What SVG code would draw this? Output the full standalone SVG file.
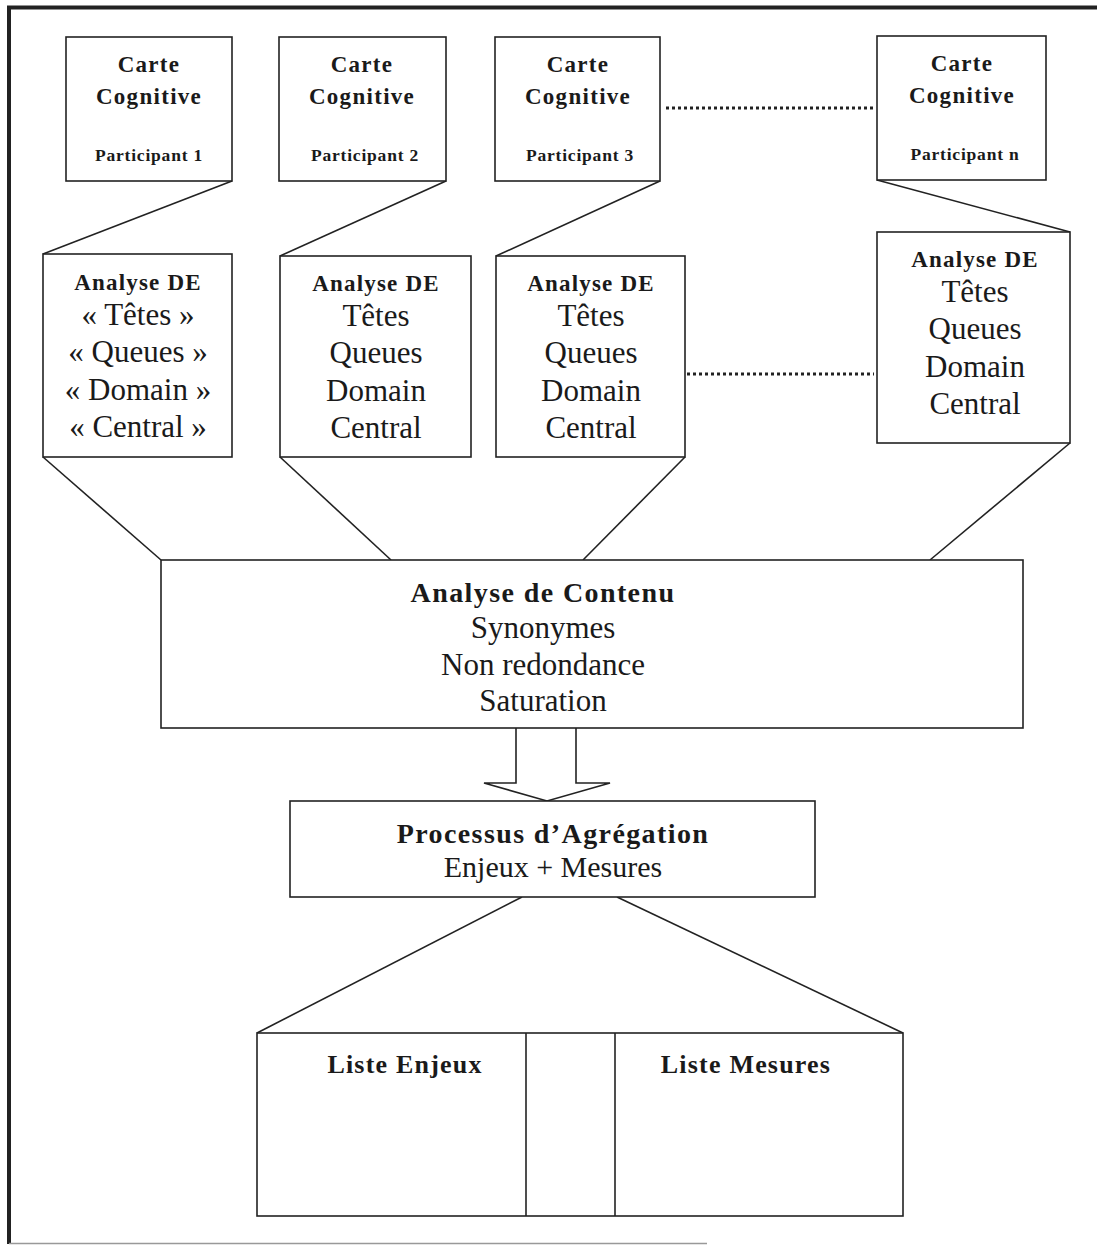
<svg xmlns="http://www.w3.org/2000/svg" width="1097" height="1245" viewBox="0 0 1097 1245">
  <style>
    .box { fill: #ffffff; stroke: #222; stroke-width: 1.6; }
    .line { fill: none; stroke: #222; stroke-width: 1.6; }
    .dots { fill: none; stroke: #222; stroke-width: 3; stroke-dasharray: 3 3; }
    text { font-family: "Liberation Serif", "Times New Roman", serif; fill: #1a1a1a; text-anchor: middle; }
    .h1 { font-size: 23px; font-weight: bold; letter-spacing: 1.3px; }
    .p { font-size: 17.5px; font-weight: bold; letter-spacing: 0.8px; }
    .h2 { font-size: 23px; font-weight: bold; letter-spacing: 1.2px; }
    .r { font-size: 31px; }
    .h3 { font-size: 28px; font-weight: bold; letter-spacing: 1.4px; }
    .h4 { font-size: 26px; font-weight: bold; letter-spacing: 1.2px; }
  </style>

  <!-- outer frame -->
  <g id="frame">
    <path d="M9,1244 V7.5 H1097" fill="none" stroke="#222" stroke-width="4"/>
    <line x1="9" y1="1243.5" x2="707" y2="1243.5" stroke="#999" stroke-width="1.5"/>
  </g>

  <!-- connectors -->
  <g id="connectors">
    <!-- cognitive maps to DE analyses -->
    <line class="line" x1="232" y1="181" x2="43" y2="254"/>
    <line class="line" x1="446" y1="181" x2="280" y2="256"/>
    <line class="line" x1="660" y1="181" x2="496" y2="256"/>
    <line class="line" x1="877" y1="180" x2="1070" y2="232"/>
    <line class="dots" x1="666" y1="108" x2="874" y2="108"/>
    <line class="dots" x1="687" y1="374" x2="874" y2="374"/>
    <!-- DE analyses to content analysis -->
    <line class="line" x1="43" y1="457" x2="161" y2="560"/>
    <line class="line" x1="280" y1="457" x2="391" y2="560"/>
    <line class="line" x1="685" y1="457" x2="583" y2="560"/>
    <line class="line" x1="1070" y1="443" x2="930" y2="560"/>
    <!-- block arrow -->
    <path class="line" d="M516,728 V783 H484 L547,801 L610,783 H576 V728"/>
    <!-- aggregation to lists -->
    <line class="line" x1="522" y1="897" x2="257" y2="1033"/>
    <line class="line" x1="617" y1="897" x2="903" y2="1033"/>
  </g>

  <!-- cognitive maps -->
  <g id="carte1">
    <rect class="box" x="66" y="37" width="166" height="144"/>
    <text class="h1" x="149" y="72">Carte</text>
    <text class="h1" x="149" y="104">Cognitive</text>
    <text class="p" x="149" y="161">Participant 1</text>
  </g>
  <g id="carte2">
    <rect class="box" x="279" y="37" width="167" height="144"/>
    <text class="h1" x="362" y="72">Carte</text>
    <text class="h1" x="362" y="104">Cognitive</text>
    <text class="p" x="365" y="161">Participant 2</text>
  </g>
  <g id="carte3">
    <rect class="box" x="495" y="37" width="165" height="144"/>
    <text class="h1" x="578" y="72">Carte</text>
    <text class="h1" x="578" y="104">Cognitive</text>
    <text class="p" x="580" y="161">Participant 3</text>
  </g>
  <g id="carten">
    <rect class="box" x="877" y="36" width="169" height="144"/>
    <text class="h1" x="962" y="71">Carte</text>
    <text class="h1" x="962" y="103">Cognitive</text>
    <text class="p" x="965" y="160">Participant n</text>
  </g>

  <!-- DE analyses -->
  <g id="analyse1">
    <rect class="box" x="43" y="254" width="189" height="203"/>
    <text class="h2" x="138" y="290">Analyse DE</text>
    <text class="r" x="138" y="325">« Têtes »</text>
    <text class="r" x="138" y="362">« Queues »</text>
    <text class="r" x="138" y="400">« Domain »</text>
    <text class="r" x="138" y="437">« Central »</text>
  </g>
  <g id="analyse2">
    <rect class="box" x="280" y="256" width="191" height="201"/>
    <text class="h2" x="376" y="291">Analyse DE</text>
    <text class="r" x="376" y="326">Têtes</text>
    <text class="r" x="376" y="363">Queues</text>
    <text class="r" x="376" y="401">Domain</text>
    <text class="r" x="376" y="438">Central</text>
  </g>
  <g id="analyse3">
    <rect class="box" x="496" y="256" width="189" height="201"/>
    <text class="h2" x="591" y="291">Analyse DE</text>
    <text class="r" x="591" y="326">Têtes</text>
    <text class="r" x="591" y="363">Queues</text>
    <text class="r" x="591" y="401">Domain</text>
    <text class="r" x="591" y="438">Central</text>
  </g>
  <g id="analysen">
    <rect class="box" x="877" y="232" width="193" height="211"/>
    <text class="h2" x="975" y="267">Analyse DE</text>
    <text class="r" x="975" y="302">Têtes</text>
    <text class="r" x="975" y="339">Queues</text>
    <text class="r" x="975" y="377">Domain</text>
    <text class="r" x="975" y="414">Central</text>
  </g>

  <!-- content analysis -->
  <g id="contenu">
    <rect class="box" x="161" y="560" width="862" height="168"/>
    <text class="h3" x="543" y="602">Analyse de Contenu</text>
    <text class="r" x="543" y="638">Synonymes</text>
    <text class="r" x="543" y="675">Non redondance</text>
    <text class="r" x="543" y="711">Saturation</text>
  </g>

  <!-- aggregation -->
  <g id="agregation">
    <rect class="box" x="290" y="801" width="525" height="96"/>
    <text class="h3" x="553" y="843">Processus d’Agrégation</text>
    <text class="r" x="553" y="877" style="font-size:30px">Enjeux + Mesures</text>
  </g>

  <!-- lists -->
  <g id="listes">
    <rect class="box" x="257" y="1033" width="646" height="183"/>
    <line class="line" x1="526" y1="1033" x2="526" y2="1216"/>
    <line class="line" x1="615" y1="1033" x2="615" y2="1216"/>
    <text class="h4" x="405" y="1073">Liste Enjeux</text>
    <text class="h4" x="746" y="1073">Liste Mesures</text>
  </g>
</svg>
